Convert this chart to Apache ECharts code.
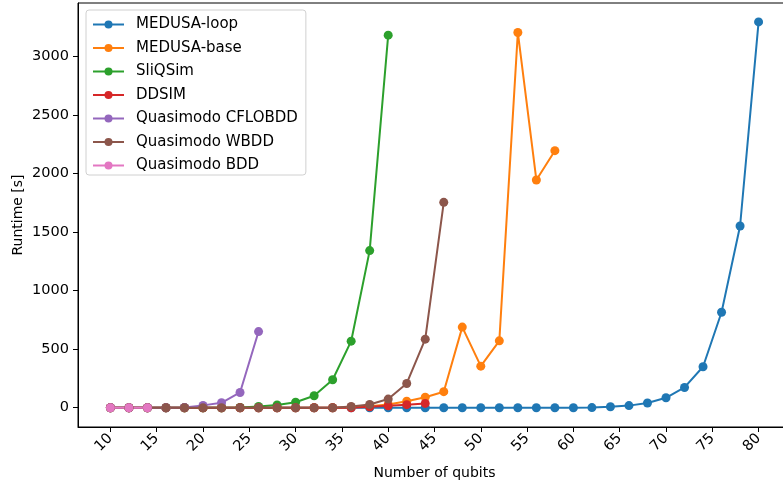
<!DOCTYPE html>
<html>
<head>
<meta charset="utf-8">
<title>Runtime vs qubits</title>
<script src="https://cdn.jsdelivr.net/npm/echarts@6/dist/echarts.min.js"></script>
<style>
    body { margin: 0; background: #fff; }
    #chart { width: 783px; height: 484px; }
</style>
</head>
<body>
<div id="chart"></div>
<script>
// runtimes in seconds
var loopQubits = [10,12,14,16,18,20,22,24,26,28,30,32,34,36,38,40,42,44,46,48,50,52,54,56,58,60,62,64,66,68,70,72,74,76,78,80];
var loopTimes  = [0,0,0,0,0,0,0,0,0,0,0,0,0,0,0,0,0,0,0,0,0,0,0,0,0,0,1,8,18,40,85,173,350,815,1551,3293];

var baseQubits = [10,12,14,16,18,20,22,24,26,28,30,32,34,36,38,40,42,44,46,48,50,52,54,56,58];
var baseTimes  = [0,0,0,0,0,0,0,0,0,0,0,0,0,5,12,28,55,90,137,688,355,571,3203,1944,2194];

var sliqQubits = [10,12,14,16,18,20,22,24,26,28,30,32,34,36,38,40];
var sliqTimes  = [0,0,0,0,0,0,0,3,10,24,47,102,239,568,1341,3180];

var ddsimQubits = [10,12,14,16,18,20,22,24,26,28,30,32,34,36,38,40,42,44];
var ddsimTimes  = [0,0,0,0,0,0,0,0,0,0,0,0,0,0,8,17,26,37];

var cfloQubits = [10,12,14,16,18,20,22,24,26];
var cfloTimes  = [0,0,0,0,3,20,42,130,650];

var wbddQubits = [10,12,14,16,18,20,22,24,26,28,30,32,34,36,38,40,42,44,46];
var wbddTimes  = [0,0,0,0,0,0,0,0,0,0,0,0,0,11,28,74,207,585,1753];

var bddQubits = [10,12,14];
var bddTimes  = [0,0,0];

var xTicks = [10,15,20,25,30,35,40,45,50,55,60,65,70,75,80];
var yTicks = [0,500,1000,1500,2000,2500,3000];

var names  = ['MEDUSA-loop','MEDUSA-base','SliQSim','DDSIM','Quasimodo CFLOBDD','Quasimodo WBDD','Quasimodo BDD'];
var colors = ['#1f77b4','#ff7f0e','#2ca02c','#d62728','#9467bd','#8c564b','#e377c2'];
var xs = [loopQubits, baseQubits, sliqQubits, ddsimQubits, cfloQubits, wbddQubits, bddQubits];
var ys = [loopTimes, baseTimes, sliqTimes, ddsimTimes, cfloTimes, wbddTimes, bddTimes];

function pairs(a, b) {
    var out = [];
    for (var i = 0; i < a.length; i++) out.push([a[i], b[i]]);
    return out;
}

var series = [];
for (var k = 0; k < names.length; k++) {
    series.push({
        name: names[k],
        type: 'line',
        data: pairs(xs[k], ys[k]),
        symbol: 'circle',
        symbolSize: 9,
        color: colors[k],
        lineStyle: { width: 2 },
        emphasis: { disabled: true }
    });
}

var font = 'DejaVu Sans';
var myChart = echarts.init(document.getElementById('chart'), null, { renderer: 'canvas' });
var option = {
    animation: false,
    textStyle: { fontFamily: font },
    grid: {
        left: 78, right: -8, top: 3, bottom: 57,
        outerBoundsMode: 'none',
        show: true, borderColor: '#000', borderWidth: 1,
        containLabel: false
    },
    legend: {
        orient: 'vertical',
        left: 86, top: 10,
        padding: [7, 8, 2, 6],
        itemWidth: 31, itemHeight: 10, itemGap: 8.5,
        backgroundColor: 'rgba(255,255,255,0.8)',
        borderColor: '#d0d0d0', borderWidth: 1, borderRadius: 3,
        textStyle: { fontFamily: font, fontSize: 15, color: '#000', padding: [0, 0, 0, 7] },
        data: names
    },
    xAxis: {
        type: 'value',
        min: 6.5, max: 83.5,
        name: 'Number of qubits',
        nameLocation: 'middle',
        nameGap: 39,
        nameMoveOverlap: false,
        nameTextStyle: { fontFamily: font, fontSize: 14, color: '#000' },
        splitLine: { show: false },
        axisLine: { show: true, onZero: false, lineStyle: { color: '#000', width: 1 } },
        axisTick: { show: true, length: 5, lineStyle: { color: '#000' }, customValues: xTicks },
        axisLabel: { rotate: 45, margin: 9, fontFamily: font, fontSize: 14.5, color: '#000', customValues: xTicks }
    },
    yAxis: {
        type: 'value',
        min: -164.5, max: 3454.5,
        name: 'Runtime [s]',
        nameLocation: 'middle',
        nameGap: 53,
        nameMoveOverlap: false,
        nameTextStyle: { fontFamily: font, fontSize: 14, color: '#000' },
        splitLine: { show: false },
        axisLine: { show: true, onZero: false, lineStyle: { color: '#000', width: 1 } },
        axisTick: { show: true, length: 5, lineStyle: { color: '#000' }, customValues: yTicks },
        axisLabel: {
            margin: 9, fontFamily: font, fontSize: 14.5, color: '#000', customValues: yTicks,
            formatter: function (v) { return String(v); }
        }
    },
    series: series
};
myChart.setOption(option);
</script>
</body>
</html>
